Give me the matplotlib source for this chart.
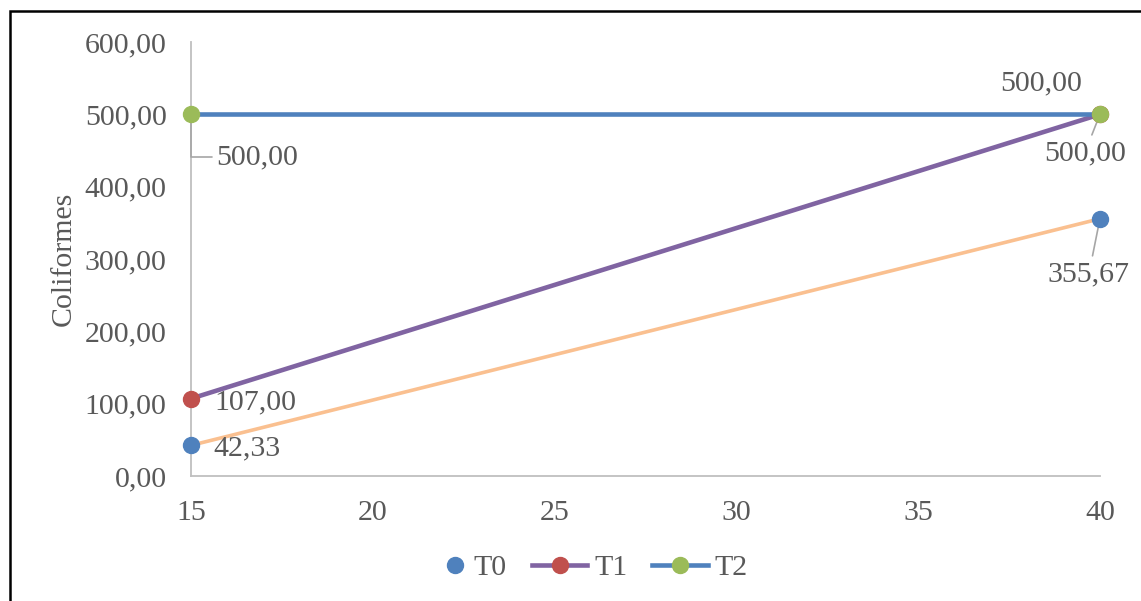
import matplotlib.pyplot as plt
from matplotlib.lines import Line2D
from matplotlib.patches import Rectangle
from matplotlib.legend_handler import HandlerLine2D

# dados
dias = [15, 40]
t0 = [42.33, 355.67]
t1 = [107.00, 500.00]
t2 = [500.00, 500.00]
x_ticks = [15, 20, 25, 30, 35, 40]
y_ticks = [0, 100, 200, 300, 400, 500, 600]

azul = '#4F81BD'
vermelho = '#C0504D'
verde = '#9BBB59'
roxo = '#8064A2'
pessego = '#FAC090'
cinza = '#595959'
fs = 21.5
ms = 11.5

plt.rcParams['font.family'] = ['Liberation Serif', 'DejaVu Serif']

fig = plt.figure(figsize=(11.41, 6.01), dpi=100)
ax = fig.add_axes([0.1674, 0.208, 0.7966, 0.722])

# linha de tendência de T0
ax.plot(dias, t0, color=pessego, lw=2.6, zorder=2)
ax.plot(dias, t1, color=roxo, lw=3.3, zorder=3)
ax.plot(dias, t2, color=azul, lw=3.3, zorder=3)
ax.plot(dias, t0, 'o', color=azul, ms=ms, zorder=4, clip_on=False)
ax.plot(dias, t1, 'o', color=vermelho, ms=ms, zorder=4, clip_on=False)
ax.plot(dias, t2, 'o', color=verde, ms=ms, zorder=5, clip_on=False)

ax.set_xlim(15, 40)
ax.set_ylim(0, 600)
ax.set_xticks(x_ticks)
ax.set_yticks(y_ticks)
ax.set_yticklabels([f'{v:.2f}'.replace('.', ',') for v in y_ticks])
ax.tick_params(length=0, labelsize=fs, labelcolor=cinza, pad=17.5)
ax.tick_params(axis='x', pad=17)
for s in ['top', 'right']:
    ax.spines[s].set_visible(False)
for s in ['left', 'bottom']:
    ax.spines[s].set_color('#BFBFBF')
    ax.spines[s].set_linewidth(1.3)
ax.set_ylabel('Coliformes', fontsize=fs, color=cinza, labelpad=6)


def fmt(v):
    return f'{v:.2f}'.replace('.', ',')


seta = dict(arrowstyle='-', color='#A6A6A6', lw=1.2, shrinkA=2, shrinkB=3)
txt = dict(textcoords='offset points', fontsize=fs, color=cinza, va='center')

ax.annotate(fmt(t2[0]), (dias[0], t2[0]), xytext=(18, -31), ha='left',
            arrowprops=dict(seta, connectionstyle='angle,angleA=0,angleB=90,rad=0',
                            relpos=(0, 0.5), shrinkA=1), **txt)
ax.annotate(fmt(t2[1]), (dias[1], t2[1]), xytext=(-42, 22), ha='center', **txt)
ax.annotate(fmt(t1[1]), (dias[1], t1[1]), xytext=(-11, -28), ha='center',
            arrowprops=seta, **txt)
ax.annotate(fmt(t0[1]), (dias[1], t0[1]), xytext=(-8, -40), ha='center',
            arrowprops=seta, **txt)
ax.annotate(fmt(t1[0]), (dias[0], t1[0]), xytext=(17, -3), ha='left', **txt)
ax.annotate(fmt(t0[0]), (dias[0], t0[0]), xytext=(16, -2.5), ha='left', **txt)


class MarcadorDireita(HandlerLine2D):
    # só o marcador, encostado ao texto
    def create_artists(self, legend, orig_handle, xdescent, ydescent,
                       width, height, fontsize, trans):
        arts = super().create_artists(legend, orig_handle, xdescent, ydescent,
                                      width, height, fontsize, trans)
        for a in arts:
            a.set_xdata([width - xdescent - 9])
        return arts


h0 = Line2D([], [], ls='none', marker='o', color=azul, ms=ms)
handles = [
    h0,
    Line2D([], [], color=roxo, lw=3.3, marker='o', mfc=vermelho, mec=vermelho, ms=ms),
    Line2D([], [], color=azul, lw=3.3, marker='o', mfc=verde, mec=verde, ms=ms),
]
fig.legend(handles, ['T0', 'T1', 'T2'], loc='center', bbox_to_anchor=(0.508, 0.055),
           ncol=3, frameon=False, fontsize=fs, labelcolor=cinza, numpoints=1,
           handlelength=1.85, handletextpad=0.22, columnspacing=0.85,
           handler_map={h0: MarcadorDireita(numpoints=1)})

# moldura do gráfico
fig.patches.append(Rectangle((0.0088, -0.05), 1.1, 1.032, transform=fig.transFigure,
                             fill=False, ec='black', lw=1.8))

fig.savefig('out.png', dpi=100)
